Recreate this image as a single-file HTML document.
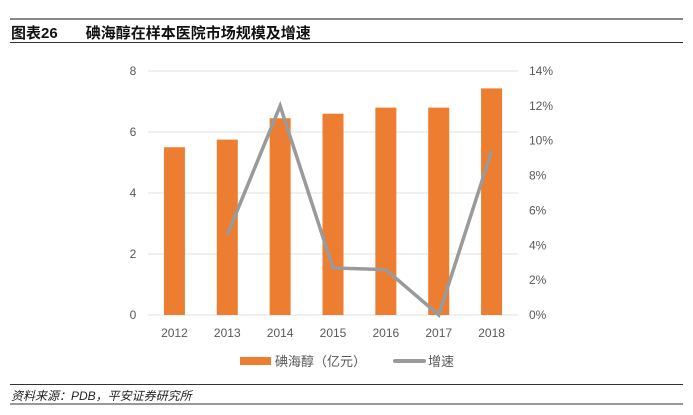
<!DOCTYPE html>
<html><head><meta charset="utf-8"><style>
body{margin:0;width:693px;height:415px;background:#fff;font-family:"Liberation Sans","Noto Sans CJK SC",sans-serif;position:relative;overflow:hidden}
.a{position:absolute}
</style></head><body>
<div class="a" style="left:10px;top:18px;width:673px;height:2px;background:#888"></div>
<div class="a" style="left:11px;top:22px;font-size:15px;font-weight:bold;color:#111;font-family:'Liberation Sans','Noto Sans CJK SC',sans-serif">图表26<span style="margin-left:28px">碘海醇在样本医院市场规模及增速</span></div>
<div class="a" style="left:10px;top:42px;width:673px;height:1px;background:#333"></div>
<div class="a" style="left:10px;top:384px;width:673px;height:1px;background:#333"></div>
<div class="a" style="left:11px;top:387px;font-size:12px;font-style:italic;color:#222">资料来源：PDB，平安证券研究所</div>
<div class="a" style="left:10px;top:403px;width:673px;height:2px;background:#999"></div>
<svg class="a" style="left:0;top:0" width="693" height="415">
<g id="g"></g>
</svg>
<script>
const categories=["2012","2013","2014","2015","2016","2017","2018"];
const sales=[5.5,5.75,6.45,6.6,6.8,6.8,7.43];
const growth=[null,4.6,12.0,2.7,2.6,0,9.4];
const leftTicks=[0,2,4,6,8];
const rightTicks=[0,2,4,6,8,10,12,14];
const NS="http://www.w3.org/2000/svg";
const g=document.getElementById('g');
const x0=148,x1=518,yb=315,yt=71;
const step=(x1-x0)/categories.length;
const xc=i=>x0+step*(i+0.5);
const yL=v=>yb-(v/8)*(yb-yt);
const yR=v=>yb-(v/14)*(yb-yt);
function el(t,a){const e=document.createElementNS(NS,t);for(const k in a)e.setAttribute(k,a[k]);g.appendChild(e);return e;}
leftTicks.forEach(v=>{
 const l=el('line',{x1:x0,x2:x1,y1:yL(v),y2:yL(v),stroke:'#e0e0e0','stroke-width':1});
 
 
 const t=el('text',{x:133,y:yL(v)+4,'text-anchor':'middle','font-size':12,fill:'#595959'});t.textContent=v;
 
 
});
rightTicks.forEach(v=>{
 const t=el('text',{x:529,y:yR(v)+4,'font-size':12,fill:'#595959'});t.textContent=v+'%';
 
 
});
sales.forEach((v,i)=>{
 const r=el('rect',{x:xc(i)-10.5,y:yL(v),width:21,height:yb-yL(v),fill:'#ED7D31'});
 
 
 const t=el('text',{x:xc(i),y:337,'text-anchor':'middle','font-size':12,fill:'#595959'});t.textContent=categories[i];
 
 
});
let d='';growth.forEach((v,i)=>{if(v===null)return;d+=(d?'L':'M')+xc(i)+','+yR(v);});
const p=el('path',{d:d,fill:'none',stroke:'#9A9A9A','stroke-width':3.5,'stroke-linejoin':'miter'});


const lb=el('rect',{x:240,y:357,width:31,height:8,fill:'#ED7D31'});


const lt=el('text',{x:275,y:366,'font-size':13,fill:'#595959'});lt.textContent='碘海醇（亿元）';


const ll=el('line',{x1:395,x2:424,y1:361,y2:361,stroke:'#9A9A9A','stroke-width':4,'stroke-linecap':'round'});


const lt2=el('text',{x:428,y:366,'font-size':13,fill:'#595959'});lt2.textContent='增速';


</script>
</body></html>
